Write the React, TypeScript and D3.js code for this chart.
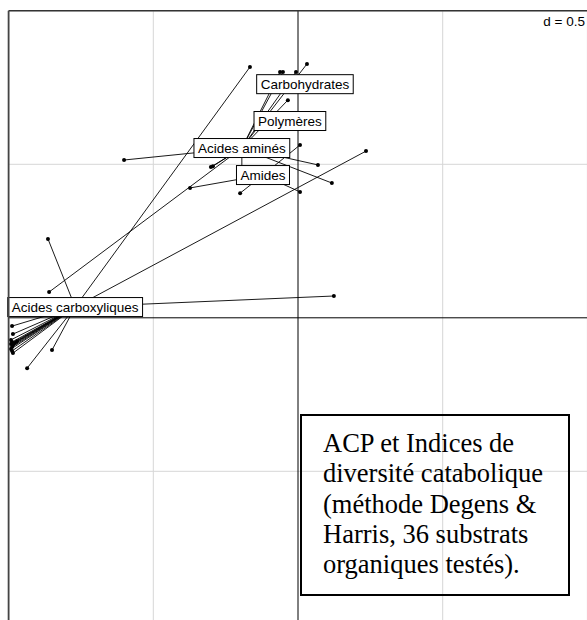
import React from "react";
import * as d3 from "d3";

// Groups (class labels) and their centroids (data units, grid d = 0.5)
const groupNames = ["Acides carboxyliques", "Acides aminés", "Amides", "Carbohydrates", "Polymères"];
const centroidX = [-0.77, -0.194, -0.121, 0.024, -0.028];
const centroidY = [0.035, 0.553, 0.465, 0.761, 0.641];

// Individual points (substrates) with their group index
const pointX = [
  // Acides carboxyliques
  -0.988, -0.985, -0.992, -0.988, -0.992, -0.985, -0.988, -0.992, -0.988, -0.985, -0.978, -0.971,
  -0.85, -0.936, -0.864, -0.166, 0.235, 0.124,
  // Acides aminés
  -0.062, -0.052, -0.007, 0.031, -0.035, -0.601, -0.86, -0.301, -0.294, 0.069, 0.117, -0.194,
  // Amides
  -0.373, -0.2, 0.007, 0.007,
  // Carbohydrates
  0.007, 0.048,
  // Polymères
  -0.045, -0.007,
];
const pointY = [
  -0.027, -0.053, -0.072, -0.079, -0.085, -0.089, -0.095, -0.102, -0.108, -0.115, -0.082, -0.076,
  -0.105, -0.164, 0.257, 0.817, 0.543, 0.071,
  0.801, 0.801, 0.801, 0.827, 0.709, 0.514, 0.084, 0.491, 0.494, 0.498, 0.439, 0.475,
  0.423, 0.406, 0.41, 0.563,
  0.767, 0.754,
  0.648, 0.635,
];
const pointGroup = [
  0, 0, 0, 0, 0, 0, 0, 0, 0, 0, 0, 0, 0, 0, 0, 0, 0, 0,
  1, 1, 1, 1, 1, 1, 1, 1, 1, 1, 1, 1,
  2, 2, 2, 2,
  3, 3,
  4, 4,
];

const gridTicks = [-1, -0.5, 0, 0.5, 1];
const gridLabel = "d = 0.5";
const noteLines = [
  "ACP et Indices de",
  "diversité catabolique",
  "(méthode Degens &",
  "Harris, 36 substrats",
  "organiques testés).",
];

const W = 587;
const H = 620;
const labelSize = 13.5;
const labelFont = `${labelSize}px 'Liberation Sans', Arial, sans-serif`;

function measure(text: string, font: string): number {
  const c = document.createElement("canvas").getContext("2d");
  if (!c) return text.length * 7;
  c.font = font;
  return c.measureText(text).width;
}

export default function App() {
  const x = d3.scaleLinear().domain([-1, 1]).range([8.6, 587.4]);
  const y = d3.scaleLinear().domain([-1, 1]).range([624.8, 10.8]);

  const frameLeft = x(-1);
  const frameTop = y(1);

  return (
    <svg
      width={W}
      height={H}
      style={{ position: "absolute", left: 0, top: 0, background: "#fff" }}
      fontFamily="'Liberation Sans', Arial, sans-serif"
    >
      <rect x={0} y={0} width={W} height={H} fill="#fff" />
      {/* grid */}
      {gridTicks
        .filter((t) => t !== 0)
        .map((t) => (
          <g key={"g" + t}>
            <line x1={x(t)} x2={x(t)} y1={frameTop} y2={H} stroke="#d6d6d6" strokeWidth={1} />
            <line x1={frameLeft} x2={W} y1={y(t)} y2={y(t)} stroke="#d6d6d6" strokeWidth={1} />
          </g>
        ))}
      {/* axes through origin */}
      <line x1={x(0)} x2={x(0)} y1={frameTop} y2={H} stroke="#000" strokeWidth={1} />
      <line x1={frameLeft} x2={W} y1={y(0)} y2={y(0)} stroke="#000" strokeWidth={1} />

      {/* star segments */}
      {pointX.map((px, i) => {
        const g = pointGroup[i];
        return (
          <line
            key={"s" + i}
            x1={x(centroidX[g])}
            y1={y(centroidY[g])}
            x2={x(px)}
            y2={y(pointY[i])}
            stroke="#000"
            strokeWidth={0.9}
          />
        );
      })}
      {pointX.map((px, i) => (
        <circle key={"p" + i} cx={x(px)} cy={y(pointY[i])} r={2} fill="#000" />
      ))}

      {/* class labels */}
      {groupNames.map((name, g) => {
        const w = measure(name, labelFont) + 8;
        const h = 19;
        const cx = x(centroidX[g]);
        const cy = y(centroidY[g]);
        return (
          <g key={"l" + g}>
            <rect x={cx - w / 2} y={cy - h / 2} width={w} height={h} fill="#fff" stroke="#000" strokeWidth={1} />
            <text x={cx} y={cy + 5} textAnchor="middle" fontSize={labelSize} fill="#000">
              {name}
            </text>
          </g>
        );
      })}

      {/* d = 0.5 */}
      <text x={585} y={26} textAnchor="end" fontSize={13.5} fill="#000">
        {gridLabel}
      </text>

      {/* frame (top & left visible) */}
      <line x1={frameLeft} x2={W} y1={frameTop} y2={frameTop} stroke="#333" strokeWidth={1.6} />
      <line x1={frameLeft} x2={frameLeft} y1={frameTop} y2={H} stroke="#444" strokeWidth={1.8} />

      {/* note box */}
      <rect x={301} y={415} width={268} height={180} fill="none" stroke="#000" strokeWidth={2} />
      <text fontFamily="'Liberation Serif', 'Times New Roman', serif" fontSize={26.5} fill="#000">
        {noteLines.map((t, i) => (
          <tspan key={i} x={323} y={452 + i * 30.3}>
            {t}
          </tspan>
        ))}
      </text>
    </svg>
  );
}
